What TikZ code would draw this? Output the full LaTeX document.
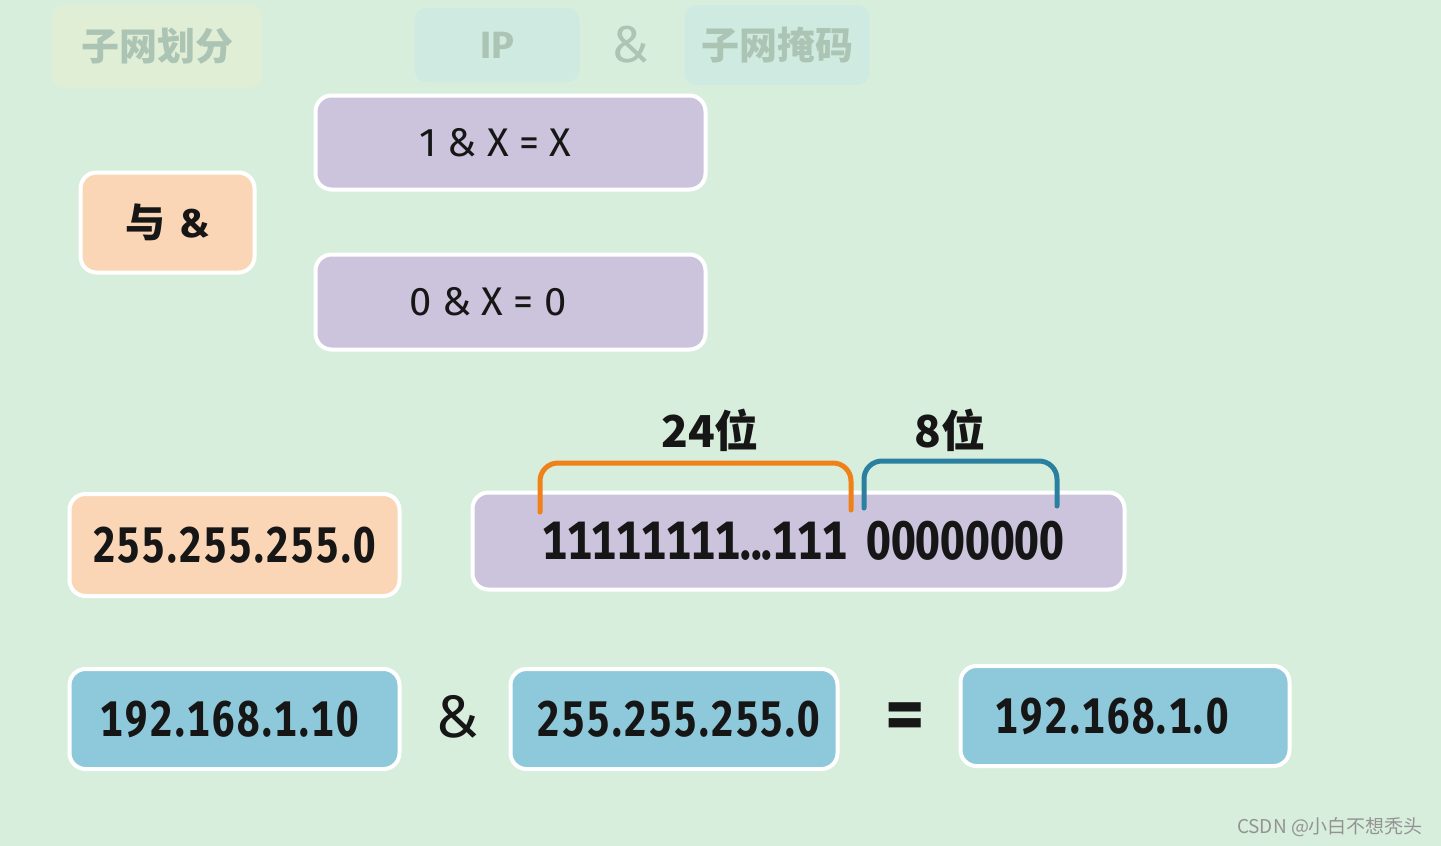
\documentclass[tikz,border=0pt]{standalone}
\usepackage{fontspec}
\setmainfont{Fira Sans}
\newfontfamily\cjk{Noto Sans CJK SC}
\newfontfamily\digits[FakeStretch=0.8,Numbers=Monospaced,LetterSpace=5]{Fira Sans}
\newfontfamily\bitfont[FakeStretch=0.82,Numbers=Monospaced]{Fira Sans}
\definecolor{bgmint}{RGB}{216,238,221}
\definecolor{boxpeach}{RGB}{251,214,182}
\definecolor{boxlilac}{RGB}{204,196,220}
\definecolor{boxblue}{RGB}{141,200,219}
\definecolor{hdrgray}{RGB}{172,196,180}
\definecolor{hdryellow}{RGB}{224,238,214}
\definecolor{hdrteal}{RGB}{207,234,224}
\definecolor{braceorange}{RGB}{240,128,24}
\definecolor{braceblue}{RGB}{42,128,158}
\definecolor{ink}{RGB}{22,22,22}
\usetikzlibrary{positioning}

\begin{document}
\begin{tikzpicture}[x=1pt, y=-1pt,
  box/.style={draw=white, line width=4pt, rounded corners=16pt, inner sep=0pt, text=ink},
  hdr/.style={rounded corners=12pt, inner sep=0pt, text=hdrgray, font=\cjk\bfseries\fontsize{38}{38}\selectfont},
  ipnum/.style={font=\digits\bfseries\fontsize{50}{50}\selectfont},
  bits/.style={inner sep=0pt, text=ink, font=\bitfont\bfseries\fontsize{54}{54}\selectfont},
  brace/.style={line width=5pt, rounded corners=18pt, line cap=round},
]
  \fill[bgmint] (0,0) rectangle (1441,846);
  \useasboundingbox (0,0) rectangle (1441,846);

  % faded title row
  \node[hdr, fill=hdryellow, minimum width=210pt, minimum height=83pt] (title) at (157,46) {子网划分};
  \node[hdr, fill=hdrteal, minimum width=165pt, minimum height=74pt, font=\bfseries\fontsize{38}{38}\selectfont] (hip) at (497,45) {IP};
  \node[text=hdrgray, font=\fontsize{52}{52}\selectfont] (hand) at (630,45) {\&};
  \node[hdr, fill=hdrteal, minimum width=185pt, minimum height=80pt] (hmask) at (777,45) {子网掩码};

  % and rule
  \node[box, fill=boxpeach, minimum width=174pt, minimum height=100pt, font=\cjk\bfseries\fontsize{40}{40}\selectfont] (andop) at (167.5,222.5) {与\hspace{14pt}{\fontspec{Fira Sans}\&}};
  \node[box, fill=boxlilac, minimum width=390pt, minimum height=94pt, font=\fontsize{40}{40}\selectfont] (rule1) at (510.5,142.5) {\hspace{-30pt}1 \& X = X};
  \node[box, fill=boxlilac, minimum width=390pt, minimum height=95pt, font=\fontsize{40}{40}\selectfont] (rule0) at (510.5,302) {\hspace{-45pt}0 \& X = 0};

  % mask in bits
  \node[box, fill=boxpeach, minimum width=330pt, minimum height=102pt, ipnum] (mask) at (234.5,545) {255.255.255.0};
  \node[box, fill=boxlilac, minimum width=652pt, minimum height=97pt] (bitrow) at (798.5,541) {};
  \node[bits, anchor=west] (ones) at (542,541) {11111111...111};
  \node[bits, anchor=west] (zeros) at (866,541) {00000000};

  \draw[brace, braceorange] (540,512) -- (540,463) -- (851,463) -- (851,510);
  \draw[brace, braceblue] (864,508) -- (864,461) -- (1057,461) -- (1057,506);
  \node[text=ink, font=\cjk\bfseries\fontsize{44}{44}\selectfont] (netlen) at (710,430) {24位};
  \node[text=ink, font=\cjk\bfseries\fontsize{44}{44}\selectfont] (hostlen) at (950,430) {8位};

  % ip & mask = network
  \node[box, fill=boxblue, minimum width=330pt, minimum height=100pt, ipnum] (ip) at (234.5,719) {\hspace*{-10pt}192.168.1.10};
  \node[text=ink, font=\fontsize{60}{60}\selectfont] (andsign) at (457,717) {\&};
  \node[box, fill=boxblue, minimum width=327pt, minimum height=100pt, ipnum] (mask2) at (674,719) {\hspace*{10pt}255.255.255.0};
  \node[text=ink, font=\bfseries\fontsize{76}{76}\selectfont] (eqsign) at (905,722) {=};
  \node[box, fill=boxblue, minimum width=329pt, minimum height=100pt, ipnum] (net) at (1125,716) {\hspace*{-26pt}192.168.1.0};

  \node[text=gray!85, font=\cjk\fontsize{19}{19}\selectfont] (mark) at (1330,827) {CSDN @小白不想秃头};
\end{tikzpicture}
\end{document}
